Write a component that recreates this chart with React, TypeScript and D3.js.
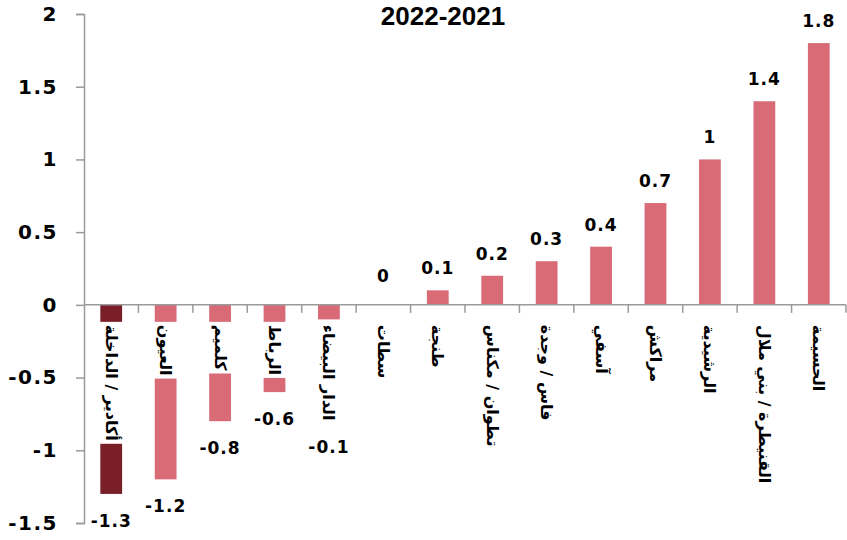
import React, { useEffect, useRef } from 'react'
import * as d3 from 'd3'

const categories = [
  'أكادير / الداخلة',
  'العيون',
  'كلميم',
  'الرباط',
  'الدار البيضاء',
  'سطات',
  'طنجة',
  'تطوان / مكناس',
  'فاس / وجدة',
  'آسفي',
  'مراكش',
  'الرشيدية',
  'القنيطرة / بني ملال',
  'الحسيمة',
]

const values = [-1.3, -1.2, -0.8, -0.6, -0.1, 0, 0.1, 0.2, 0.3, 0.4, 0.7, 1, 1.4, 1.8]

const yTicks = [-1.5, -1, -0.5, 0, 0.5, 1, 1.5, 2]

const title = '2022-2021'

export default function App() {
  const svgRef = useRef<SVGSVGElement>(null)

  useEffect(() => {
    if (!svgRef.current) return
    document.body.style.margin = '0'

    const svg = d3.select(svgRef.current)
    svg.selectAll('*').remove()

    const width = 847
    const height = 540
    svg.attr('width', width).attr('height', height)

    const x = d3.scaleBand<string>()
      .domain(categories)
      .range([84, 846])
      .paddingInner(0.6)
      .paddingOuter(0.3)

    const y = d3.scaleLinear()
      .domain([-1.5, 2])
      .range([523, 14])

    const numFont = '"DejaVu Sans", Verdana, sans-serif'
    const axisColor = '#9a9a9a'

    // bars
    svg.append('g')
      .selectAll('rect')
      .data(values)
      .enter().append('rect')
      .attr('x', (d, i) => x(categories[i]) || 0)
      .attr('width', x.bandwidth())
      .attr('y', d => y(Math.max(0, d)))
      .attr('height', d => Math.abs(y(d) - y(0)))
      .attr('fill', (d, i) => i === 0 ? '#7a1e28' : '#d96b77')

    // y axis
    const yAxis = svg.append('g')
      .attr('transform', 'translate(84,0)')
      .call(d3.axisLeft(y).tickValues(yTicks).tickSize(8).tickPadding(18).tickFormat(d => String(d)))
    yAxis.select('.domain').attr('stroke', axisColor).attr('stroke-width', 1.5)
    yAxis.selectAll('.tick line').attr('stroke', axisColor).attr('stroke-width', 1.5)
    yAxis.selectAll('.tick text')
      .attr('fill', '#000')
      .style('font-family', numFont)
      .style('font-weight', 'bold')
      .style('font-size', '20px')
      .style('letter-spacing', '1.5px')

    // zero line with category ticks
    const xAxis = svg.append('g')
      .attr('transform', `translate(0,${y(0)})`)
    xAxis.append('line')
      .attr('x1', 84).attr('x2', 846)
      .attr('stroke', axisColor).attr('stroke-width', 1.5)
    const step = x.step()
    const start = (x(categories[0]) || 0) - (step - x.bandwidth()) / 2
    const bounds = d3.range(1, categories.length + 1).map(i => start + i * step)
    xAxis.selectAll('line.tk')
      .data(bounds)
      .enter().append('line')
      .attr('class', 'tk')
      .attr('x1', d => d).attr('x2', d => d)
      .attr('y1', 0).attr('y2', 8)
      .attr('stroke', axisColor).attr('stroke-width', 1.5)

    // category labels (rotated, with white backing)
    const labelTop = y(0) + 20
    const labelG = svg.append('g')
    const labelBottoms: number[] = []
    categories.forEach((c, i) => {
      const cx = (x(c) || 0) + x.bandwidth() / 2
      const g = labelG.append('g')
      const bg = g.append('rect').attr('fill', '#fff')
      const t = g.append('text')
        .attr('transform', `translate(${cx},${labelTop}) rotate(90)`)
        .attr('text-anchor', 'start')
        .attr('dominant-baseline', 'central')
        .style('font-family', '"DejaVu Sans", sans-serif')
        .style('font-weight', 'bold')
        .style('font-size', '16px')
        .text(c)
      const len = (t.node() as SVGTextElement).getComputedTextLength()
      bg.attr('x', cx - x.bandwidth() / 2 - 1)
        .attr('width', x.bandwidth() + 2)
        .attr('y', y(0) + 17)
        .attr('height', len + 6)
      labelBottoms.push(labelTop + len)
    })

    // value labels
    svg.append('g')
      .selectAll('text')
      .data(values)
      .enter().append('text')
      .attr('x', (d, i) => (x(categories[i]) || 0) + x.bandwidth() / 2)
      .attr('y', (d, i) => d > 0
        ? y(d) - 16
        : d === 0
          ? y(0) - 23
          : Math.max(y(d), labelBottoms[i]) + 33)
      .attr('text-anchor', 'middle')
      .attr('fill', '#000')
      .style('font-family', numFont)
      .style('font-weight', 'bold')
      .style('font-size', '17px')
      .style('letter-spacing', '1px')
      .text(d => String(d))

    // title
    svg.append('text')
      .attr('x', 443)
      .attr('y', 25)
      .attr('text-anchor', 'middle')
      .style('font-family', '"Liberation Sans", Arial, sans-serif')
      .style('font-weight', 'bold')
      .style('font-size', '26px')
      .text(title)
  }, [])

  return (
    <div style={{ width: 847, height: 540, background: '#fff' }}>
      <svg ref={svgRef} style={{ display: 'block' }}></svg>
    </div>
  )
}
